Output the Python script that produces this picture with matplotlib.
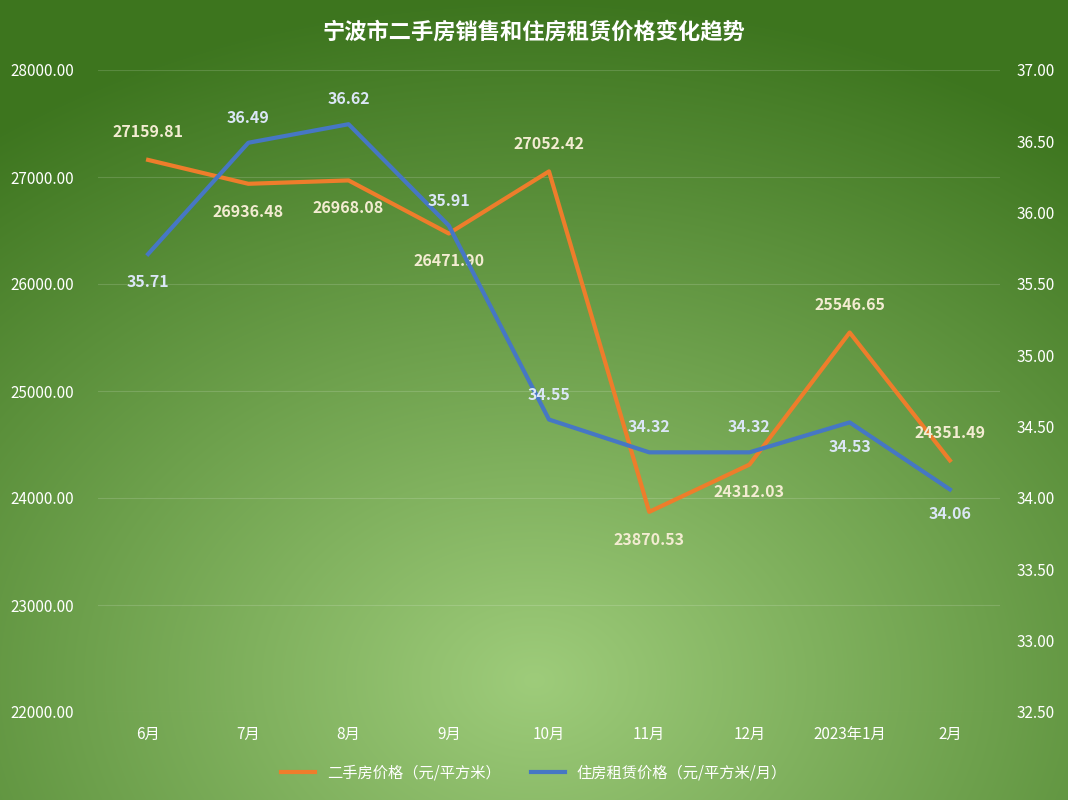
import numpy as np
import matplotlib
matplotlib.use("Agg")
import matplotlib.pyplot as plt

plt.rcParams['font.family'] = ['Noto Sans CJK SC', 'DejaVu Sans']

months = ["6月", "7月", "8月", "9月", "10月", "11月", "12月", "2023年1月", "2月"]
sale_price = [27159.81, 26936.48, 26968.08, 26471.90, 27052.42, 23870.53, 24312.03, 25546.65, 24351.49]
rent_price = [35.71, 36.49, 36.62, 35.91, 34.55, 34.32, 34.32, 34.53, 34.06]

W, H = 1068, 800
fig = plt.figure(figsize=(W/100, H/100), dpi=100)

bg = fig.add_axes([0, 0, 1, 1])
yy, xx = np.mgrid[0:H, 0:W]
cx, cy = W*0.5, H*0.85
d = np.sqrt(((xx-cx)/W)**2 + ((yy-cy)/H)**2)
t = np.clip(d/0.85, 0, 1)[..., None]
inner = np.array([0.62, 0.80, 0.48])
outer = np.array([0.24, 0.46, 0.12])
img = inner*(1-t) + outer*t
bg.imshow(img, aspect='auto', extent=[0, 1, 0, 1])
bg.axis('off')

ax = fig.add_axes([98/W, 1-712/H, 902/W, 642/H])
ax.patch.set_alpha(0)
x = np.arange(len(months))
orange = '#ee7d2b'
blue = '#4677c4'
ax.plot(x, sale_price, color=orange, lw=3, zorder=3)
ax.set_ylim(22000, 28000)
ax.set_yticks(np.arange(22000, 28001, 1000))
ax.set_yticklabels([f"{v:.2f}" for v in np.arange(22000, 28001, 1000)])
ax.set_xlim(-0.5, 8.5)
ax.set_xticks(x)
ax.set_xticklabels(months)
ax.grid(axis='y', color='white', alpha=0.15, lw=0.8)
for s in ax.spines.values():
    s.set_visible(False)
ax.tick_params(length=0, colors='white', labelsize=11, pad=10)
for lbl in ax.get_yticklabels():
    lbl.set_horizontalalignment('left')
ax.tick_params(axis='y', pad=63)

ax2 = ax.twinx()
ax2.plot(x, rent_price, color=blue, lw=3, zorder=3)
ax2.set_ylim(32.5, 37.0)
ax2.set_yticks(np.arange(32.5, 37.01, 0.5))
ax2.set_yticklabels([f"{v:.2f}" for v in np.arange(32.5, 37.01, 0.5)])
for s in ax2.spines.values():
    s.set_visible(False)
ax2.tick_params(length=0, colors='white', labelsize=11, pad=12)

ocol = '#f3ecd2'
bcol = '#dbe6f6'
s_off = [(0, 20), (0, -20), (0, -20), (0, -20), (0, 20), (0, -20), (0, -20), (0, 20), (0, 20)]
for i, v in enumerate(sale_price):
    ax.annotate(f"{v:.2f}", (i, v), xytext=s_off[i], textcoords='offset points',
                ha='center', va='center', color=ocol, fontsize=11.5, fontweight='bold')
r_off = [(0, -20), (0, 18), (0, 18), (0, 18), (0, 18), (0, 18), (0, 18), (0, -18), (0, -18)]
for i, v in enumerate(rent_price):
    ax2.annotate(f"{v:.2f}", (i, v), xytext=r_off[i], textcoords='offset points',
                 ha='center', va='center', color=bcol, fontsize=11.5, fontweight='bold')

fig.text(0.5, 1-32/H, "宁波市二手房销售和住房租赁价格变化趋势", ha='center', va='center',
         color='white', fontsize=16, fontweight='bold')

from matplotlib.lines import Line2D
h = [Line2D([], [], color=orange, lw=3), Line2D([], [], color=blue, lw=3)]
fig.legend(h, ["二手房价格（元/平方米）", "住房租赁价格（元/平方米/月）"], loc='center',
           bbox_to_anchor=(0.5, 1-773/H), ncol=2, frameon=False, fontsize=11,
           labelcolor='white', handlelength=2.2, columnspacing=2)

fig.savefig("out.png", dpi=100)
